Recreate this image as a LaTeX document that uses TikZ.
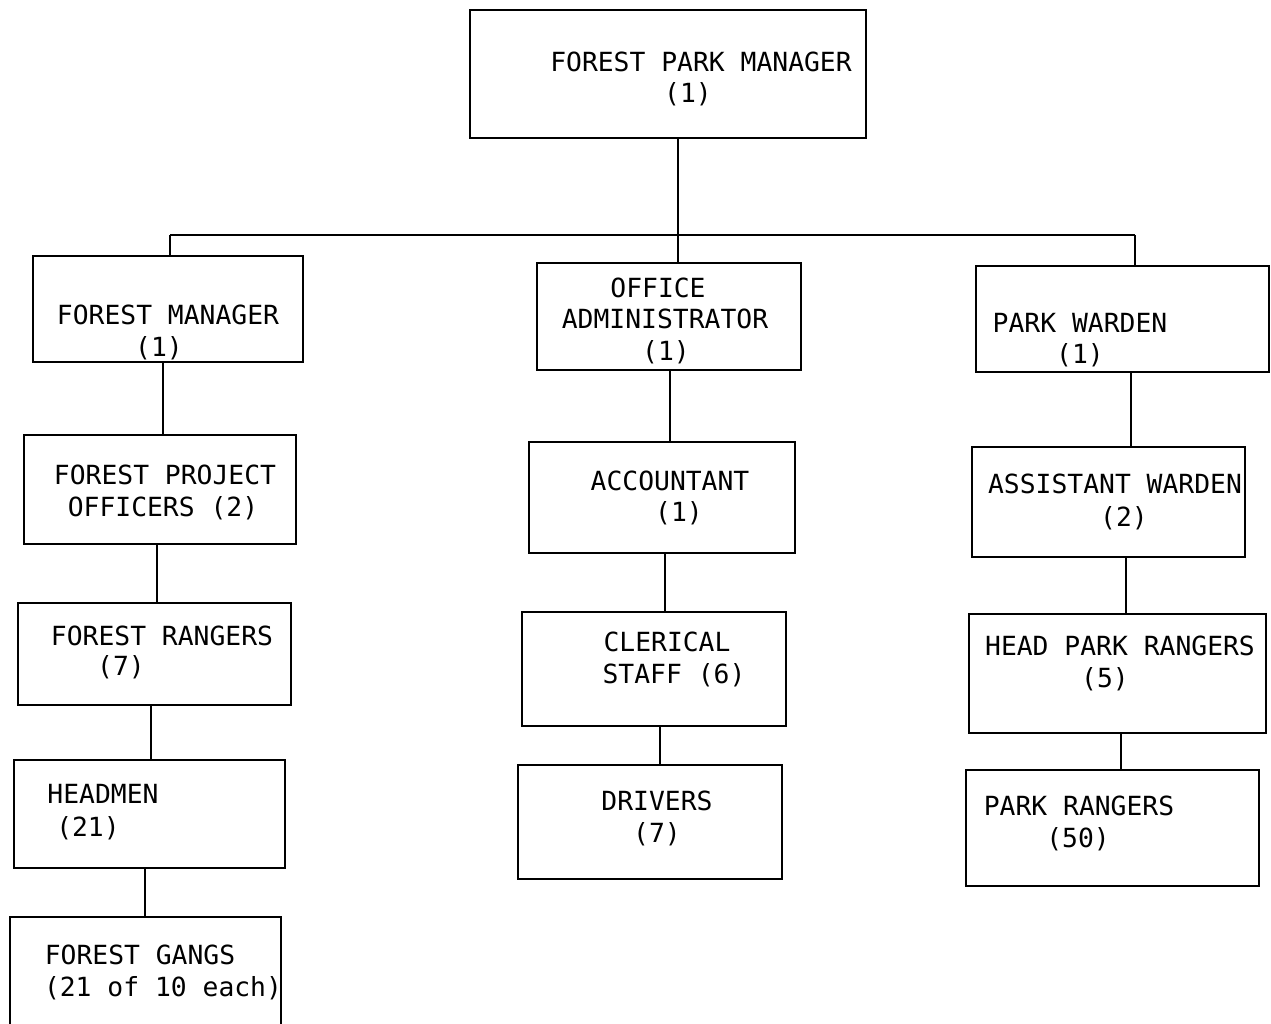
\documentclass[tikz,border=0pt]{standalone}
\usepackage{fontspec}
\newfontfamily\chartfont{DejaVu Sans Mono}
\begin{document}
\begin{tikzpicture}[x=0.02cm,y=-0.02cm,
  box/.style={draw=black,line width=1pt,rectangle,inner sep=0pt},
  lbl/.style={anchor=base,inner sep=0pt,font=\chartfont\fontsize{15}{18}\selectfont},
  conn/.style={draw=black,line width=1pt}]
\useasboundingbox (0,0) rectangle (1271,1024);
\clip (0,0) rectangle (1271,1024);
\fill[white] (0,0) rectangle (1271,1024);
% boxes
\node[box,minimum width=396*0.02cm,minimum height=128*0.02cm] (fpm) at (668,74) {};
\node[box,minimum width=270*0.02cm,minimum height=106*0.02cm] (fm) at (168,309) {};
\node[box,minimum width=264*0.02cm,minimum height=107*0.02cm] (oa) at (669,316.5) {};
\node[box,minimum width=293*0.02cm,minimum height=106*0.02cm] (pw) at (1122.5,319) {};
\node[box,minimum width=272*0.02cm,minimum height=109*0.02cm] (fpo) at (160,489.5) {};
\node[box,minimum width=273*0.02cm,minimum height=102*0.02cm] (fr) at (154.5,654) {};
\node[box,minimum width=271*0.02cm,minimum height=108*0.02cm] (hm) at (149.5,814) {};
\node[box,minimum width=271*0.02cm,minimum height=130*0.02cm] (fg) at (145.5,982) {};
\node[box,minimum width=266*0.02cm,minimum height=111*0.02cm] (acc) at (662,497.5) {};
\node[box,minimum width=264*0.02cm,minimum height=114*0.02cm] (cs) at (654,669) {};
\node[box,minimum width=264*0.02cm,minimum height=114*0.02cm] (dr) at (650,822) {};
\node[box,minimum width=273*0.02cm,minimum height=110*0.02cm] (aw) at (1108.5,502) {};
\node[box,minimum width=297*0.02cm,minimum height=119*0.02cm] (hpr) at (1117.5,673.5) {};
\node[box,minimum width=293*0.02cm,minimum height=116*0.02cm] (pr) at (1112.5,828) {};
% labels
\node[lbl] (t1a) at (701,72) {FOREST PARK MANAGER};
\node[lbl] (t1b) at (688,103) {(1)};
\node[lbl] (t2a) at (168,324) {FOREST MANAGER};
\node[lbl] (t2b) at (159,356) {(1)};
\node[lbl] (t3a) at (658,297) {OFFICE};
\node[lbl] (t3b) at (665,328) {ADMINISTRATOR};
\node[lbl] (t3c) at (666,360) {(1)};
\node[lbl] (t4a) at (1080,332) {PARK WARDEN};
\node[lbl] (t4b) at (1080,363) {(1)};
\node[lbl] (t5a) at (165,484) {FOREST PROJECT};
\node[lbl] (t5b) at (163,516) {OFFICERS (2)};
\node[lbl] (t6a) at (162,645) {FOREST RANGERS};
\node[lbl] (t6b) at (121,675) {(7)};
\node[lbl] (t7a) at (103,803) {HEADMEN};
\node[lbl] (t7b) at (88,836) {(21)};
\node[lbl] (t8a) at (140,964) {FOREST GANGS};
\node[lbl] (t8b) at (163,996) {(21 of 10 each)};
\node[lbl] (t9a) at (670,490) {ACCOUNTANT};
\node[lbl] (t9b) at (679,521) {(1)};
\node[lbl] (t10a) at (667,651) {CLERICAL};
\node[lbl] (t10b) at (674,683) {STAFF (6)};
\node[lbl] (t11a) at (657,810) {DRIVERS};
\node[lbl] (t11b) at (657,842) {(7)};
\node[lbl] (t12a) at (1115,493) {ASSISTANT WARDEN};
\node[lbl] (t12b) at (1124,526) {(2)};
\node[lbl] (t13a) at (1120,655) {HEAD PARK RANGERS};
\node[lbl] (t13b) at (1105,687) {(5)};
\node[lbl] (t14a) at (1079,815) {PARK RANGERS};
\node[lbl] (t14b) at (1078,847) {(50)};
% top tree
\coordinate (j) at (678,235);
\coordinate (jl) at (170,235);
\coordinate (jr) at (1135,235);
\draw[conn] (fpm.south -| j) -- (j);
\draw[conn] (jl) -- (jr);
\draw[conn] (jl) -- (fm.north -| jl);
\draw[conn] (j) -- (oa.north -| j);
\draw[conn] (jr) -- (pw.north -| jr);
% left chain
\coordinate (l1) at (163,0);
\coordinate (l2) at (157,0);
\coordinate (l3) at (151,0);
\coordinate (l4) at (145,0);
\draw[conn] (fm.south -| l1) -- (fpo.north -| l1);
\draw[conn] (fpo.south -| l2) -- (fr.north -| l2);
\draw[conn] (fr.south -| l3) -- (hm.north -| l3);
\draw[conn] (hm.south -| l4) -- (fg.north -| l4);
% middle chain
\coordinate (m1) at (670,0);
\coordinate (m2) at (665,0);
\coordinate (m3) at (660,0);
\draw[conn] (oa.south -| m1) -- (acc.north -| m1);
\draw[conn] (acc.south -| m2) -- (cs.north -| m2);
\draw[conn] (cs.south -| m3) -- (dr.north -| m3);
% right chain
\coordinate (r1) at (1131,0);
\coordinate (r2) at (1126,0);
\coordinate (r3) at (1121,0);
\draw[conn] (pw.south -| r1) -- (aw.north -| r1);
\draw[conn] (aw.south -| r2) -- (hpr.north -| r2);
\draw[conn] (hpr.south -| r3) -- (pr.north -| r3);
\end{tikzpicture}
\end{document}
